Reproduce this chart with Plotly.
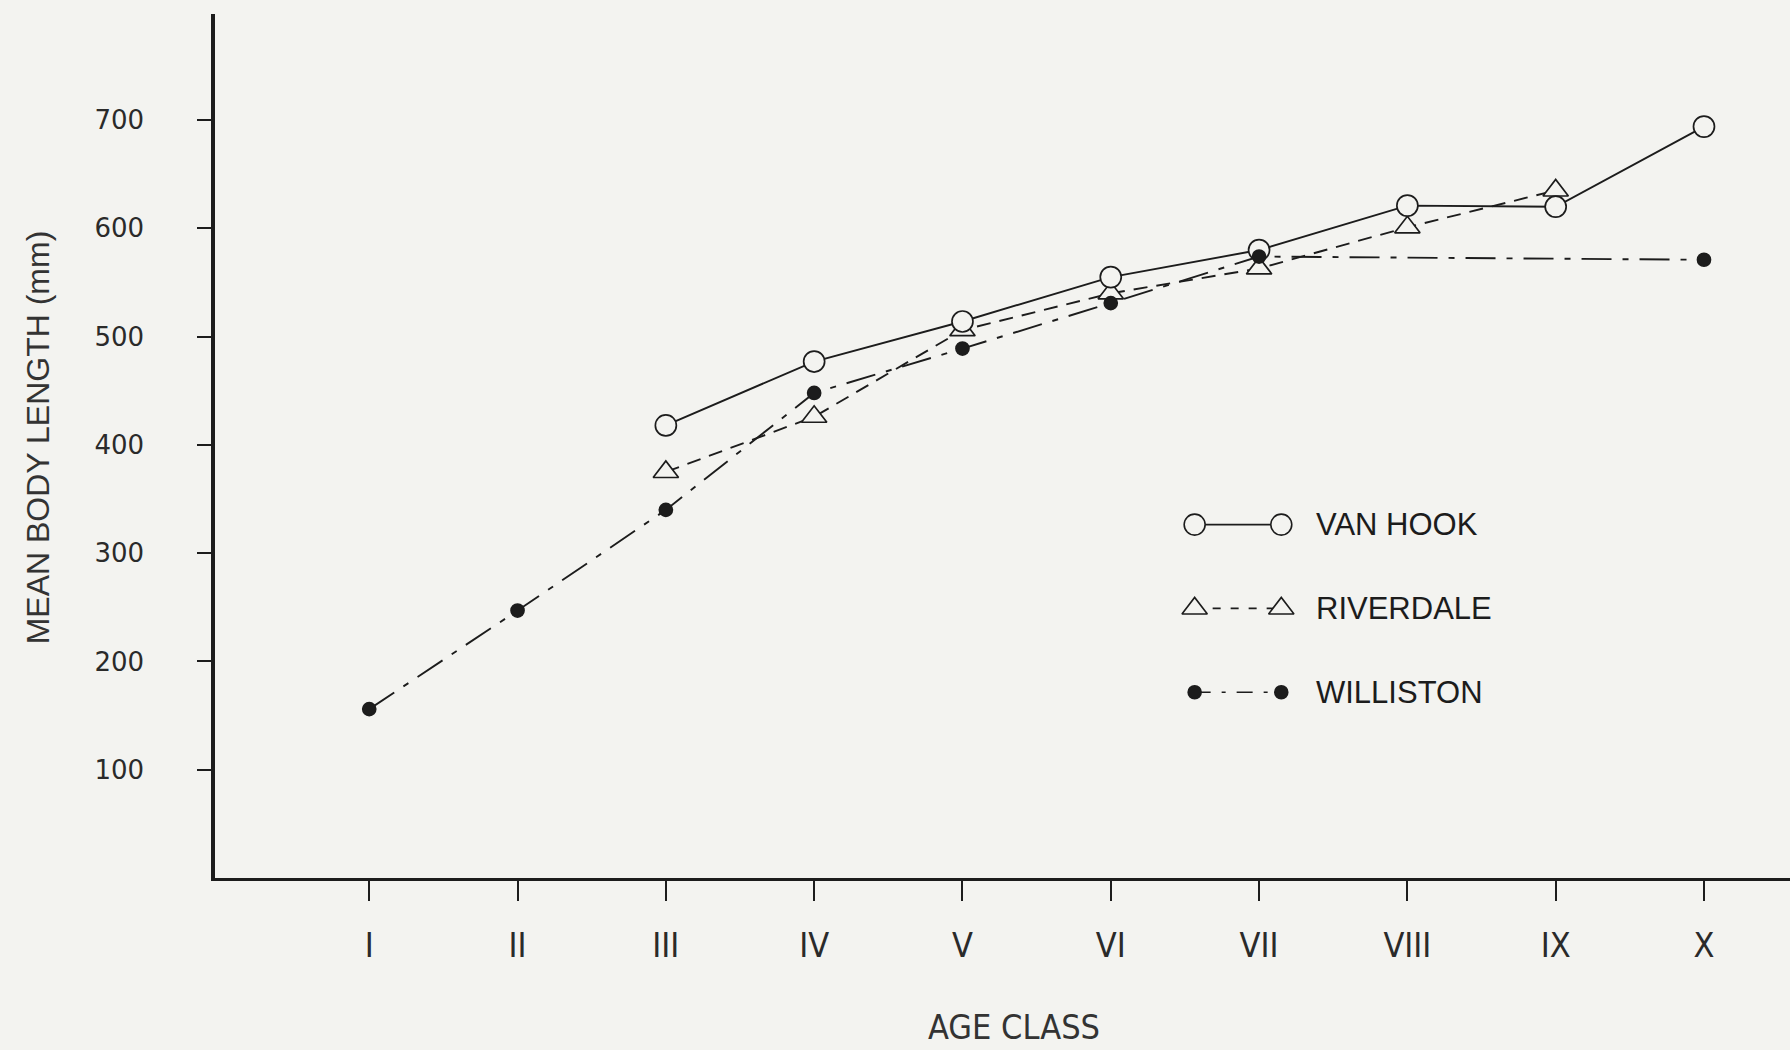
import plotly.graph_objects as go

# Mean body length (mm) by age class for three populations
age_classes = ["I", "II", "III", "IV", "V", "VI", "VII", "VIII", "IX", "X"]
age_index = list(range(1, 11))

van_hook_x = [3, 4, 5, 6, 7, 8, 9, 10]
van_hook_y = [418, 477, 514, 555, 580, 621, 620, 694]

riverdale_x = [3, 4, 5, 6, 7, 8, 9]
riverdale_y = [375, 426, 506, 540, 563, 601, 635]

williston_x = [1, 2, 3, 4, 5, 6, 7, 10]
williston_y = [156, 247, 340, 448, 489, 531, 574, 571]

series_names = ["VAN HOOK", "RIVERDALE", "WILLISTON"]
y_ticks = [100, 200, 300, 400, 500, 600, 700]

INK = "#1c1c1c"
PAPER = "#f3f3f0"
SANS = "DejaVu Sans, Liberation Sans, sans-serif"
NARROW = "Liberation Sans Narrow, DejaVu Sans Condensed, Liberation Sans, sans-serif"

styles = {
    "VAN HOOK": dict(dash="solid", key_dash="solid", symbol="circle", size=21, fill=PAPER),
    "RIVERDALE": dict(dash="14px,9px", key_dash="8px,10px", symbol="triangle-up", size=22, fill=PAPER),
    "WILLISTON": dict(dash="30px,11px,6px,11px", key_dash="16px,11px,4px,11px",
                      symbol="circle", size=13, fill=INK),
}

fig = go.Figure()

for name, xs, ys in [
    ("RIVERDALE", riverdale_x, riverdale_y),
    ("VAN HOOK", van_hook_x, van_hook_y),
    ("WILLISTON", williston_x, williston_y),
]:
    st = styles[name]
    fig.add_trace(go.Scatter(
        x=xs, y=ys, name=name, mode="lines+markers",
        line=dict(color=INK, width=1.9, dash=st["dash"]),
        marker=dict(symbol=st["symbol"], size=st["size"], color=st["fill"],
                    line=dict(color=INK, width=1.7)),
        showlegend=False,
    ))

# Hand-drawn key on an overlay axis spanning the plot area
key_x = [0.622, 0.677]
key_y = [0.409, 0.312, 0.215]
for name, ky in zip(series_names, key_y):
    st = styles[name]
    fig.add_trace(go.Scatter(
        x=key_x, y=[ky, ky], xaxis="x2", yaxis="y2", mode="lines+markers",
        line=dict(color=INK, width=1.7, dash=st["key_dash"]),
        marker=dict(symbol=st["symbol"], size=st["size"], color=st["fill"],
                    line=dict(color=INK, width=1.6)),
        showlegend=False, hoverinfo="skip",
    ))
    fig.add_annotation(
        x=0.698, y=ky, xref="paper", yref="paper", text=name,
        showarrow=False, xanchor="left", yanchor="middle",
        font=dict(family="Liberation Sans, Arial, sans-serif", size=31, color=INK),
    )

fig.add_annotation(
    x=-0.1124, y=0.51, xref="paper", yref="paper", text="MEAN BODY LENGTH (mm)",
    textangle=-90, showarrow=False, xanchor="center", yanchor="middle",
    font=dict(family="Liberation Sans, Arial, sans-serif", size=32, color="#333333"),
)
fig.add_annotation(
    x=0.507, y=-0.1725, xref="paper", yref="paper", text="AGE CLASS",
    showarrow=False, xanchor="center", yanchor="middle",
    font=dict(family=NARROW, size=34, color="#333333"),
)

fig.update_layout(
    width=1790, height=1050,
    margin=dict(l=215, r=0, t=14, b=172),
    paper_bgcolor=PAPER, plot_bgcolor=PAPER,
    showlegend=False,
    xaxis=dict(
        range=[-0.04, 10.58], tickmode="array", tickvals=age_index, ticktext=age_classes,
        showgrid=False, zeroline=False, showline=True, linecolor=INK, linewidth=3,
        ticks="outside", ticklen=20, tickwidth=1.6, tickcolor=INK,
        ticklabelstandoff=15,
        tickfont=dict(family=NARROW, size=34, color="#2a2a2a"),
    ),
    yaxis=dict(
        range=[0, 798], tickmode="array", tickvals=y_ticks,
        showgrid=False, zeroline=False, showline=True, linecolor=INK, linewidth=3.5,
        ticks="outside", ticklen=14, tickwidth=1.6, tickcolor=INK,
        ticklabelstandoff=48,
        tickfont=dict(family=SANS, size=26, color="#2a2a2a"),
    ),
    xaxis2=dict(range=[0, 1], overlaying="x", visible=False, fixedrange=True),
    yaxis2=dict(range=[0, 1], overlaying="y", visible=False, fixedrange=True),
)

fig.write_html("out.html")
